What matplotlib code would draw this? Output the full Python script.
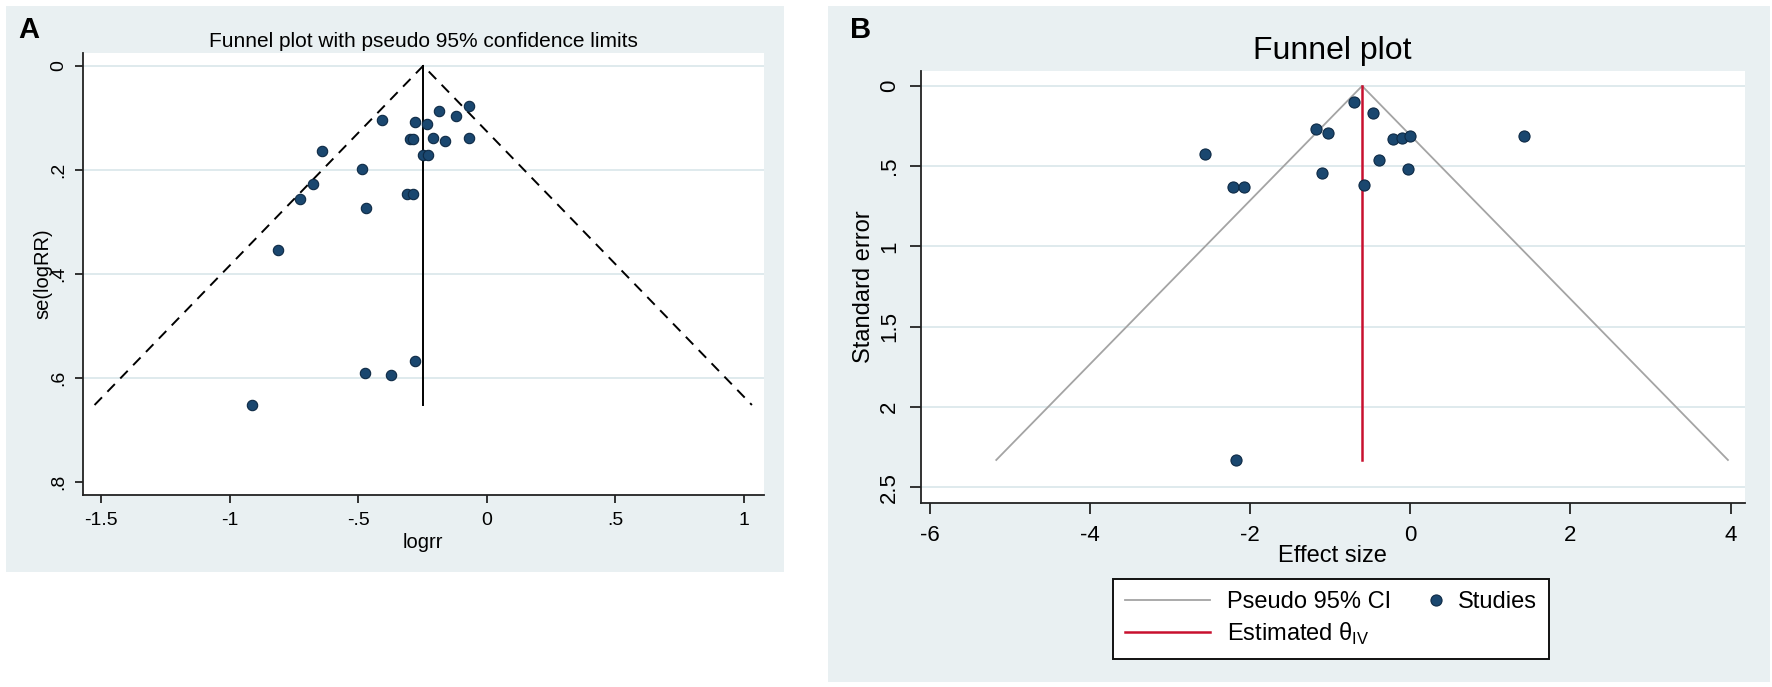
import matplotlib
matplotlib.use('Agg')
import matplotlib.pyplot as plt
from matplotlib.patches import Rectangle
from matplotlib.lines import Line2D
from matplotlib.legend_handler import HandlerLine2D

plt.rcParams['font.family'] = ['Liberation Sans', 'DejaVu Sans']
plt.rcParams['mathtext.fontset'] = 'custom'
plt.rcParams['mathtext.rm'] = 'Liberation Sans'

# ---------------- Panel A data ----------------
a_logrr = [-0.068, -0.185, -0.119, -0.406, -0.279, -0.234, -0.300, -0.288,
           -0.208, -0.161, -0.068, -0.249, -0.227, -0.642, -0.486, -0.674,
           -0.726, -0.470, -0.311, -0.286, -0.812, -0.278, -0.475, -0.372,
           -0.911]
a_se = [0.078, 0.086, 0.096, 0.104, 0.109, 0.112, 0.141, 0.141,
        0.138, 0.144, 0.139, 0.171, 0.171, 0.163, 0.199, 0.227,
        0.256, 0.274, 0.246, 0.247, 0.354, 0.568, 0.590, 0.594,
        0.652]
a_theta = -0.247
a_se_max = 0.652
a_xticks = [-1.5, -1, -0.5, 0, 0.5, 1]
a_xticklabels = ['-1.5', '-1', '-.5', '0', '.5', '1']
a_yticks = [0, 0.2, 0.4, 0.6, 0.8]
a_yticklabels = ['0', '.2', '.4', '.6', '.8']

# ---------------- Panel B data ----------------
b_effect = [-0.695, -0.458, -1.173, -1.028, -0.208, -0.104, 0.000, 1.42,
            -2.559, -0.395, -0.029, -1.103, -2.206, -2.072, -0.578, -2.18]
b_se = [0.102, 0.170, 0.270, 0.295, 0.330, 0.324, 0.312, 0.311,
        0.422, 0.461, 0.519, 0.540, 0.627, 0.627, 0.615, 2.33]
b_theta = -0.60
b_se_max = 2.33
b_xticks = [-6, -4, -2, 0, 2, 4]
b_xticklabels = ['-6', '-4', '-2', '0', '2', '4']
b_yticks = [0, 0.5, 1, 1.5, 2, 2.5]
b_yticklabels = ['0', '.5', '1', '1.5', '2', '2.5']
legend_labels = ['Pseudo 95% CI', 'Estimated θ$_{\\mathrm{IV}}$', 'Studies']
z95 = 1.96

BG = '#E9F0F2'
GRID = '#DCE8EC'
NAVY = '#1A476F'
NAVY_EDGE = '#0E2A45'

W, H = 1772, 687
fig = plt.figure(figsize=(W / 100, H / 100), dpi=100)
fig.patch.set_facecolor('white')


def frect(x0, y0, x1, y1):
    return Rectangle((x0 / W, 1 - y1 / H), (x1 - x0) / W, (y1 - y0) / H,
                     transform=fig.transFigure, facecolor=BG, edgecolor='none',
                     zorder=-10)


fig.patches.append(frect(6, 6, 784, 572))
fig.patches.append(frect(828, 6, 1770, 682))


def style_axes(ax, ticklen, fs):
    ax.set_facecolor('white')
    for s in ['top', 'right']:
        ax.spines[s].set_visible(False)
    for s in ['left', 'bottom']:
        ax.spines[s].set_linewidth(1.3)
        ax.spines[s].set_color('#222222')
    ax.tick_params(axis='both', direction='out', length=ticklen, width=1.3,
                   color='#222222', labelsize=fs)
    ax.tick_params(axis='y', labelrotation=90)
    for lab in ax.get_yticklabels():
        lab.set_va('center')


# ---------------- Panel A ----------------
axA = fig.add_axes([82.7 / W, 1 - 495 / H, (764 - 82.7) / W, (495 - 53.3) / H])
axA.set_xlim(-1.571, 1.078)
axA.set_ylim(0.825, -0.024)
for yv in a_yticks[:-1]:
    axA.axhline(yv, color=GRID, lw=1.3, zorder=0.5)
axA.plot([a_theta - z95 * a_se_max, a_theta, a_theta + z95 * a_se_max],
         [a_se_max, 0, a_se_max], color='black', lw=1.4,
         dashes=(5.5, 4), zorder=2)
axA.plot([a_theta, a_theta], [0, a_se_max], color='black', lw=1.4, zorder=2)
axA.scatter(a_logrr, a_se, s=56, color=NAVY, edgecolors=NAVY_EDGE,
            linewidths=0.8, zorder=3)
axA.set_xticks(a_xticks)
axA.set_xticklabels(a_xticklabels)
axA.set_yticks(a_yticks)
axA.set_yticklabels(a_yticklabels)
style_axes(axA, 6, 14)
axA.tick_params(axis='x', pad=6)
axA.tick_params(axis='y', pad=5)
axA.set_xlabel('logrr', fontsize=14.5)
axA.xaxis.set_label_coords(0.5, -0.085)
axA.set_ylabel('se(logRR)', fontsize=14.5)
axA.yaxis.set_label_coords(-0.044, 0.5)
fig.text(423 / W, 1 - 46.7 / H, 'Funnel plot with pseudo 95% confidence limits',
         ha='center', va='baseline', fontsize=15)
fig.text(18 / W, 1 - 38 / H, 'A', ha='left', va='baseline', fontsize=21,
         fontweight='bold')

# ---------------- Panel B ----------------
axB = fig.add_axes([920.7 / W, 1 - 503 / H, (1745 - 920.7) / W, (503 - 70.7) / H])
axB.set_xlim(-6.11, 4.18)
axB.set_ylim(2.598, -0.095)
for yv in b_yticks:
    axB.axhline(yv, color=GRID, lw=1.3, zorder=0.5)
ci_line, = axB.plot([b_theta - z95 * b_se_max, b_theta, b_theta + z95 * b_se_max],
                    [b_se_max, 0, b_se_max], color='#A4A4A4', lw=1.3, zorder=2)
est_line, = axB.plot([b_theta, b_theta], [0, b_se_max], color='#C8102E', lw=1.8,
                     zorder=2)
axB.scatter(b_effect, b_se, s=64, color=NAVY, edgecolors=NAVY_EDGE,
            linewidths=0.8, zorder=3)
axB.set_xticks(b_xticks)
axB.set_xticklabels(b_xticklabels)
axB.set_yticks(b_yticks)
axB.set_yticklabels(b_yticklabels)
style_axes(axB, 8, 16)
axB.tick_params(axis='x', pad=8)
axB.tick_params(axis='y', pad=7)
axB.set_xlabel('Effect size', fontsize=17)
axB.xaxis.set_label_coords(0.5, -0.097)
axB.set_ylabel('Standard error', fontsize=17)
axB.yaxis.set_label_coords(-0.056, 0.5)
fig.text(1332 / W, 1 - 59 / H, 'Funnel plot', ha='center', va='baseline',
         fontsize=23)
fig.text(850 / W, 1 - 38 / H, 'B', ha='left', va='baseline', fontsize=21,
         fontweight='bold')


class RightMarkerHandler(HandlerLine2D):
    """Place the single legend marker at the right end of its handle box."""

    def create_artists(self, legend, orig_handle, xdescent, ydescent,
                       width, height, fontsize, trans):
        artists = super().create_artists(legend, orig_handle, xdescent,
                                         ydescent, width, height, fontsize,
                                         trans)
        for a in artists:
            if isinstance(a, Line2D):
                n = len(a.get_xdata())
                a.set_xdata([width - xdescent - 4] * n)
        return artists


studies_handle = Line2D([], [], linestyle='none', marker='o', markersize=8,
                        markerfacecolor=NAVY, markeredgecolor=NAVY_EDGE,
                        markeredgewidth=0.8)
handles = [ci_line, est_line, studies_handle]
leg = fig.legend(handles, legend_labels, ncol=2,
                 loc='center', bbox_to_anchor=(1331 / W, 1 - 619 / H),
                 bbox_transform=fig.transFigure, fontsize=17, frameon=True,
                 fancybox=False, edgecolor='#111111', framealpha=1.0,
                 handlelength=3.6, columnspacing=-1.45, handletextpad=0.7,
                 labelspacing=0.32, borderpad=0.5, numpoints=1,
                 handler_map={studies_handle: RightMarkerHandler(numpoints=1)})
leg.get_frame().set_linewidth(1.4)
leg.get_frame().set_facecolor('white')

fig.savefig('out.png', dpi=100, facecolor='white')
